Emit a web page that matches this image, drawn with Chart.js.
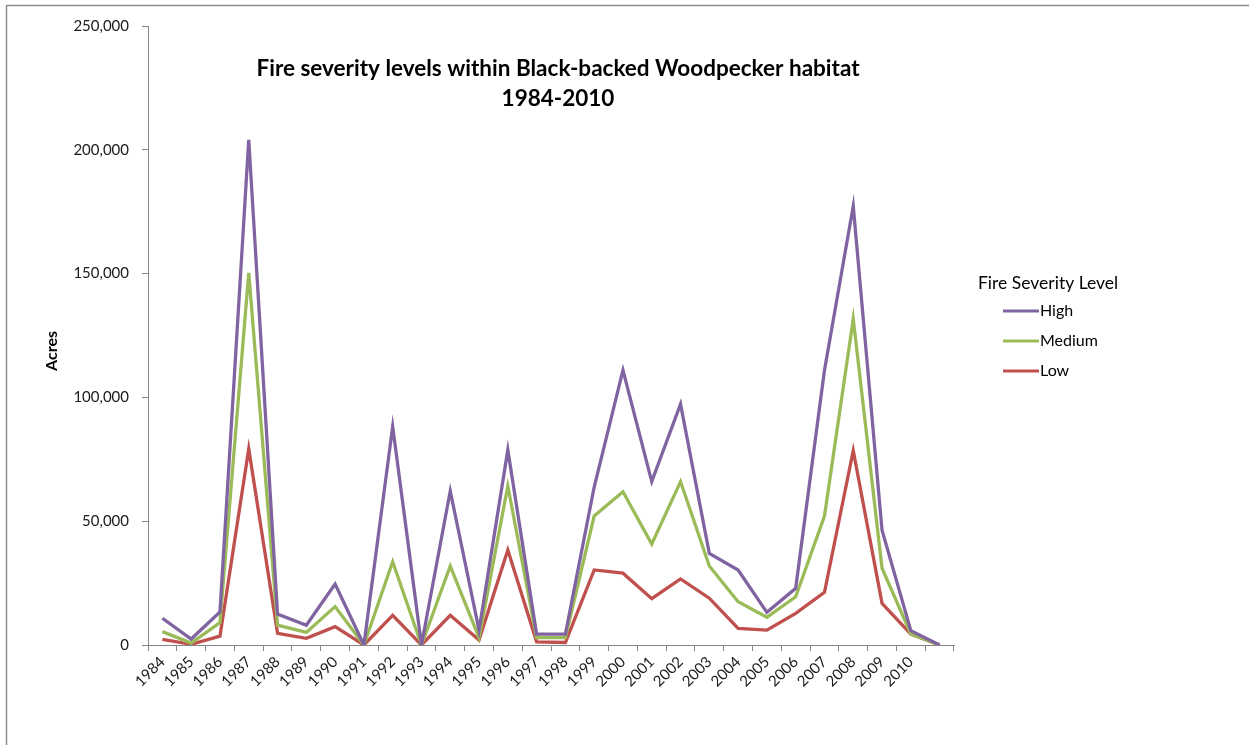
<!DOCTYPE html>
<html>
<head>
<meta charset="utf-8">
<title>Fire severity levels within Black-backed Woodpecker habitat</title>
<script src="https://cdn.jsdelivr.net/npm/chart.js@4.4.1/dist/chart.umd.min.js"></script>
<style>
  html, body { margin: 0; padding: 0; background: #ffffff; }
  #wrap { position: relative; width: 1249px; height: 745px; }
</style>
</head>
<body>
<div id="wrap"><canvas id="chart" width="1249" height="745"></canvas></div>
<script>
// Years burned (the trailing blank category closes the series at zero)
const years = ['1984','1985','1986','1987','1988','1989','1990','1991','1992','1993',
  '1994','1995','1996','1997','1998','1999','2000','2001','2002','2003',
  '2004','2005','2006','2007','2008','2009','2010',''];

// Acres burned per severity level
const highAcres = [10800, 2400, 13300, 204000, 12500, 8000, 24600, 0, 88200, 0,
  62200, 6000, 78800, 4400, 4400, 63800, 111000, 66000, 97300, 37000,
  30300, 13200, 22900, 111000, 177300, 46400, 5800, 0];
const mediumAcres = [5400, 800, 9000, 150300, 8000, 5100, 15500, 0, 33600, 0,
  31900, 3000, 64200, 3000, 3000, 52100, 61900, 40800, 66000, 31900,
  17500, 11200, 19500, 52100, 131700, 31000, 4500, 0];
const lowAcres = [2300, 300, 3600, 79200, 4700, 2700, 7400, 0, 12000, 0,
  12000, 2000, 38400, 1300, 1000, 30300, 29000, 18700, 26700, 18900,
  6700, 6000, 12800, 21300, 78500, 16800, 4400, 0];

const seriesNames = ['High', 'Medium', 'Low'];
const yTicks = [0, 50000, 100000, 150000, 200000, 250000];

const titleLines = ['Fire severity levels within Black-backed Woodpecker habitat', '1984-2010'];
const legendTitle = 'Fire Severity Level';
const yAxisTitle = 'Acres';

const FONT = 'Lato, "Open Sans", "Liberation Sans", sans-serif';
const axisGrey = '#868686';

// Title, axis title, custom legend and the outer frame
const decorations = {
  id: 'decorations',
  afterDraw(chart) {
    const ctx = chart.ctx;
    ctx.save();
    // outer frame (top and left edges)
    ctx.strokeStyle = '#8c8c8c';
    ctx.lineWidth = 1.5;
    ctx.beginPath();
    ctx.moveTo(6.5, 745);
    ctx.lineTo(6.5, 5.5);
    ctx.lineTo(1249, 5.5);
    ctx.stroke();

    // chart title
    ctx.fillStyle = '#000';
    ctx.textAlign = 'center';
    ctx.textBaseline = 'middle';
    ctx.font = 'bold 22.5px ' + FONT;
    ctx.fillText(titleLines[0], 558, 69);
    ctx.fillText(titleLines[1], 558, 99);

    // y axis title
    ctx.save();
    ctx.translate(52, 351);
    ctx.rotate(-Math.PI / 2);
    ctx.font = 'bold 16px ' + FONT;
    ctx.fillText(yAxisTitle, 0, 0);
    ctx.restore();

    // legend
    ctx.textAlign = 'left';
    ctx.font = '17.5px ' + FONT;
    ctx.fillStyle = '#000';
    ctx.fillText(legendTitle, 978, 283);
    chart.data.datasets.forEach((ds, i) => {
      const y = 311 + i * 30;
      ctx.strokeStyle = ds.borderColor;
      ctx.lineWidth = 3;
      ctx.beginPath();
      ctx.moveTo(1003, y);
      ctx.lineTo(1039, y);
      ctx.stroke();
      ctx.fillStyle = '#000';
      ctx.font = '16px ' + FONT;
      ctx.fillText(ds.label, 1040, y);
    });
    ctx.restore();
  }
};

const makeSet = (label, data, color) => ({
  label, data,
  borderColor: color,
  backgroundColor: color,
  borderWidth: 3.3,
  pointRadius: 0,
  pointHoverRadius: 0,
  tension: 0,
  fill: false
});

new Chart(document.getElementById('chart'), {
  type: 'line',
  data: {
    labels: years,
    datasets: [
      makeSet(seriesNames[0], highAcres, '#8064A2'),
      makeSet(seriesNames[1], mediumAcres, '#9BBB59'),
      makeSet(seriesNames[2], lowAcres, '#C0504D')
    ]
  },
  options: {
    responsive: false,
    animation: false,
    devicePixelRatio: 1,
    layout: { padding: { left: 0, right: 295, top: 26, bottom: 0 } },
    plugins: {
      legend: { display: false },
      title: { display: false },
      tooltip: { enabled: false }
    },
    scales: {
      x: {
        type: 'category',
        offset: true,
        grid: {
          offset: true,
          drawOnChartArea: false,
          drawTicks: true,
          tickLength: 6,
          color: axisGrey
        },
        border: { display: true, color: axisGrey, width: 1 },
        ticks: {
          autoSkip: false,
          maxRotation: 45,
          minRotation: 45,
          padding: 2,
          color: '#1a1a1a',
          font: { family: FONT, size: 15 }
        },
        afterFit(scale) { scale.height = 100; }
      },
      y: {
        min: 0,
        max: 250000,
        afterBuildTicks(scale) {
          scale.ticks = yTicks.map(v => ({ value: v }));
        },
        grid: {
          drawOnChartArea: false,
          drawTicks: true,
          tickLength: 6,
          color: axisGrey
        },
        border: { display: true, color: axisGrey, width: 1 },
        ticks: {
          padding: 13,
          color: '#1a1a1a',
          font: { family: FONT, size: 15 },
          callback: v => Number(v).toLocaleString('en-US')
        },
        afterFit(scale) { scale.width = 148; }
      }
    }
  },
  plugins: [decorations]
});
</script>
</body>
</html>
